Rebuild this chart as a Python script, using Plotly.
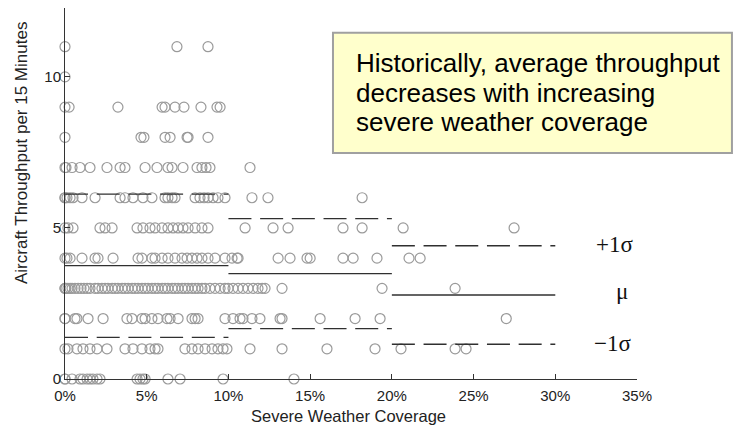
import plotly.graph_objects as go

# Severe weather coverage (%) of observations, grouped by aircraft throughput per 15 minutes
cov_tp0 = [0, 0, 0.43, 0.92, 1.1, 1.35, 1.53, 1.71, 1.96, 2.14, 4.41, 4.59, 4.77, 4.9, 6.3, 7.04, 9.67, 14.01]
cov_tp1 = [0, 0.18, 0.73, 1.1, 1.53, 1.96, 2.57, 3.67, 4.16, 4.71, 5.2, 5.51, 5.69, 7.34, 7.77, 8.14, 8.57,
           9.0, 9.36, 9.67, 9.91, 11.32, 13.28, 16.03, 18.97, 20.56, 23.87, 24.54]
cov_tp2 = [0, 0, 0.61, 0.73, 1.41, 2.33, 3.79, 4.1, 4.71, 4.9, 5.32, 5.69, 6.24, 6.43, 6.92, 7.77, 7.96,
           8.14, 9.79, 10.28, 10.71, 10.89, 11.44, 11.93, 13.16, 13.28, 15.61, 17.75, 19.28, 27.0]
cov_tp3 = [0, 0, 0.06, 0.18, 0.31, 0.43, 0.61, 0.80, 0.98, 1.16, 1.35, 1.53, 1.84, 2.02, 2.26, 2.45, 2.63,
           2.88, 3.06, 3.24, 3.49, 3.67, 3.86, 4.10, 4.28, 4.47, 4.71, 4.90, 5.08, 5.32, 5.51, 5.69, 5.94,
           6.12, 6.30, 6.55, 6.73, 6.92, 7.16, 7.34, 7.53, 7.77, 7.96, 8.14, 8.38, 8.57, 8.87, 9.18, 9.49,
           9.79, 9.98, 10.28, 10.59, 10.89, 11.20, 11.51, 11.81, 12.06, 12.24, 13.28, 19.40, 23.87]
cov_tp4 = [0, 0.12, 0.31, 1.04, 1.84, 2.02, 2.94, 4.47, 4.71, 5.32, 5.51, 5.94, 6.3, 6.73, 7.16, 7.47, 7.77,
           8.08, 8.38, 8.75, 9.18, 9.79, 10.22, 10.53, 10.59, 13.04, 13.77, 14.81, 15.0, 17.01, 17.63, 19.09,
           21.05, 21.73]
cov_tp5 = [0, 0.18, 0.49, 2.14, 2.45, 2.88, 4.41, 4.77, 5.2, 5.51, 5.94, 6.3, 6.61, 6.92, 7.22, 7.53, 7.96,
           8.38, 8.75, 11.02, 12.73, 13.65, 17.01, 18.18, 20.69, 27.48]
cov_tp6 = [0, 0, 0.12, 0.31, 0.49, 1.04, 1.84, 3.37, 3.67, 4.16, 4.77, 5.32, 6.12, 6.3, 6.55, 6.73, 7.96,
           8.26, 8.51, 8.75, 9.06, 9.36, 9.79, 11.44, 12.42, 18.18]
cov_tp7 = [0, 0.06, 0.43, 0.92, 1.53, 2.57, 3.37, 3.67, 4.9, 5.63, 6.3, 6.55, 7.22, 8.08, 8.38, 8.63, 8.87, 11.32]
cov_tp8 = [0, 4.65, 4.83, 6.12, 6.43, 7.47, 7.53, 8.75]
cov_tp9 = [0, 0.25, 3.24, 5.94, 6.12, 6.73, 7.28, 8.32, 9.3, 9.49]
cov_tp10 = [0]
cov_tp11 = [0, 6.85, 8.75]

throughput_levels = [0, 1, 2, 3, 4, 5, 6, 7, 8, 9, 10, 11]
coverage_by_level = [cov_tp0, cov_tp1, cov_tp2, cov_tp3, cov_tp4, cov_tp5,
                     cov_tp6, cov_tp7, cov_tp8, cov_tp9, cov_tp10, cov_tp11]

# Binned statistics (coverage bins in %)
bin_edges = [0, 10, 20, 30]
bin_mean = [3.75, 3.49, 2.78]
bin_sd = [2.37, 1.82, 1.63]

x_ticks = [0, 5, 10, 15, 20, 25, 30, 35]
y_ticks = [0, 5, 10]
band_labels = ["+1σ", "μ", "−1σ"]
note_lines = ["Historically, average throughput", "decreases with increasing", "severe weather coverage"]
x_title = "Severe Weather Coverage"
y_title = "Aircraft Throughput per 15 Minutes"

xs, ys = [], []
for lvl, covs in zip(throughput_levels, coverage_by_level):
    xs += covs
    ys += [lvl] * len(covs)

fig = go.Figure()
fig.add_trace(go.Scatter(
    x=xs, y=ys, mode="markers", cliponaxis=False, showlegend=False,
    marker=dict(symbol="circle-open", size=10, color="#9a9a9a", line=dict(width=1.2, color="#9a9a9a")),
))

line_col = "#303030"
for i in range(len(bin_mean)):
    x0, x1 = bin_edges[i], bin_edges[i + 1]
    m, s = bin_mean[i], bin_sd[i]
    fig.add_trace(go.Scatter(x=[x0, x1], y=[m, m], mode="lines", showlegend=False,
                             line=dict(color=line_col, width=1.3)))
    for yy in (m + s, m - s):
        fig.add_trace(go.Scatter(x=[x0, x1], y=[yy, yy], mode="lines", showlegend=False,
                                 line=dict(color=line_col, width=1.3, dash="23px,8.7px")))

# band labels at the right of last bin
last_m, last_s = bin_mean[-1], bin_sd[-1]
band_y = [last_m + last_s + 0.03, last_m + 0.12, last_m - last_s + 0.03]
band_x = [33.6, 34.1, 33.5]
for lab, bx, by in zip(band_labels, band_x, band_y):
    fig.add_annotation(x=bx, y=by, xref="x", yref="y", text=lab, showarrow=False,
                       font=dict(family="Liberation Serif, Times New Roman, serif", size=23, color="#111"),
                       xanchor="center", yanchor="middle")

# note box
fig.add_shape(type="rect", xref="paper", yref="paper", x0=0.4685, x1=1.166, y0=0.609, y1=0.933,
              fillcolor="#FFFFCC", line=dict(color="#A0A0A0", width=2), layer="above")
note_y_px = [63, 92.5, 122]
for line_txt, py in zip(note_lines, note_y_px):
    fig.add_annotation(xref="paper", yref="paper", x=(354 - 65) / 572, y=(379 - py) / 371,
                       xanchor="left", yanchor="middle", align="left", showarrow=False, text=line_txt,
                       font=dict(family="Liberation Sans, Arial, sans-serif", size=26, color="#000"))

# axis titles
title_font_x = dict(family="Liberation Sans, Arial, sans-serif", size=16.5, color="#222")
title_font_y = dict(family="Liberation Sans, Arial, sans-serif", size=17, color="#222")
fig.add_annotation(xref="paper", yref="paper", x=(348 - 65) / 572, y=(379 - 416) / 371,
                   xanchor="center", yanchor="middle", showarrow=False, text=x_title, font=title_font_x)
fig.add_annotation(xref="paper", yref="paper", x=(21 - 65) / 572, y=(379 - 153) / 371,
                   xanchor="center", yanchor="middle", showarrow=False, text=y_title, font=title_font_y,
                   textangle=-90)

axis_font = dict(family="Liberation Sans, Arial, sans-serif", size=15, color="#222")
fig.update_xaxes(range=[0, 35], tickvals=x_ticks, ticktext=[f"{v}%" for v in x_ticks],
                 showgrid=False, zeroline=False, showline=True, linecolor="#333", linewidth=1,
                 ticks="inside", ticklen=5, tickcolor="#333", tickfont=axis_font, ticklabelstandoff=3)
fig.update_yaxes(range=[0, 12.28], tickvals=y_ticks, ticktext=[str(v) for v in y_ticks],
                 showgrid=False, zeroline=False, showline=True, linecolor="#333", linewidth=1,
                 ticks="inside", ticklen=5, tickcolor="#333", tickfont=axis_font)
fig.update_layout(width=733, height=427, margin=dict(l=65, r=96, t=8, b=48),
                  plot_bgcolor="white", paper_bgcolor="white")

fig.write_html("out.html")
